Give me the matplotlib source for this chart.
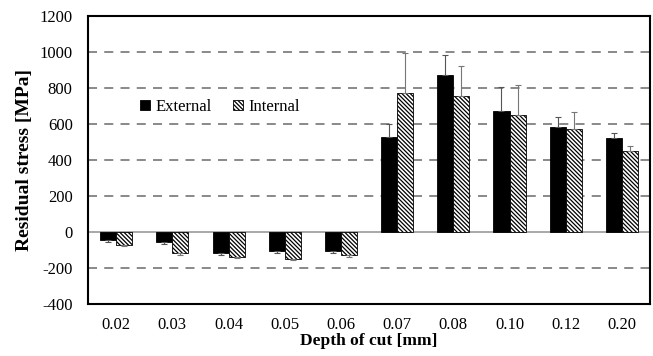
import matplotlib
matplotlib.use("Agg")
import matplotlib.pyplot as plt
import numpy as np

plt.rcParams['font.family'] = ['Liberation Serif', 'DejaVu Serif']
plt.rcParams['hatch.linewidth'] = 0.9
plt.rcParams['axes.unicode_minus'] = False

categories = ["0.02", "0.03", "0.04", "0.05", "0.06", "0.07", "0.08", "0.10", "0.12", "0.20"]
external = [-42, -58, -115, -105, -105, 526, 874, 674, 585, 522]
internal = [-70, -115, -137, -148, -130, 770, 757, 650, 574, 450]
external_err = [12, 10, 12, 12, 12, 74, 109, 133, 52, 30]
internal_err = [8, 10, 8, 10, 8, 226, 165, 165, 91, 28]

fig = plt.figure(figsize=(6.53, 3.56), dpi=100)
ax = fig.add_axes([0.1348, 0.146, 0.8606, 0.809])

x = np.arange(len(categories))
w = 0.285

def one_sided(vals, errs):
    lo = [e if v < 0 else 0 for v, e in zip(vals, errs)]
    hi = [e if v >= 0 else 0 for v, e in zip(vals, errs)]
    return [lo, hi]

for yv in [-200, 200, 400, 600, 800, 1000]:
    ax.axhline(yv, color='#808080', lw=1.3, dashes=(5, 4), zorder=0)
ax.axhline(0, color='#999999', lw=1.2, zorder=1)

ax.bar(x - w/2, external, w, color='black', edgecolor='black', lw=0.6,
       label='External', zorder=2,
       yerr=one_sided(external, external_err),
       error_kw=dict(ecolor='#555555', elinewidth=0.8, capsize=2.5, capthick=0.8))
ax.bar(x + w/2, internal, w, color='white', edgecolor='black', lw=0.6,
       hatch='\\' * 8, label='Internal', zorder=2,
       yerr=one_sided(internal, internal_err),
       error_kw=dict(ecolor='#777777', elinewidth=0.8, capsize=2.5, capthick=0.8))

ax.set_xlim(-0.5, len(categories) - 0.5)
ax.set_ylim(-400, 1200)
ax.set_yticks(np.arange(-400, 1201, 200))
ax.set_xticks(x)
ax.set_xticklabels(categories)
ax.tick_params(axis='x', length=0, labelsize=12, pad=9)
ax.tick_params(axis='y', length=0, labelsize=12, pad=11)
for s in ax.spines.values():
    s.set_linewidth(1.5)
    s.set_color('black')

ax.set_ylabel('Residual stress [MPa]', fontsize=14, fontweight='bold', labelpad=5)
ax.set_xlabel('Depth of cut [mm]', fontsize=12.5, fontweight='bold', labelpad=0)

ax.legend(loc='center left', bbox_to_anchor=(0.093, 0.684), ncol=2, frameon=False,
          fontsize=12, handlelength=0.6, handleheight=0.6, handletextpad=0.3,
          columnspacing=1.3, borderpad=0, borderaxespad=0)

fig.savefig('out.png', dpi=100)
